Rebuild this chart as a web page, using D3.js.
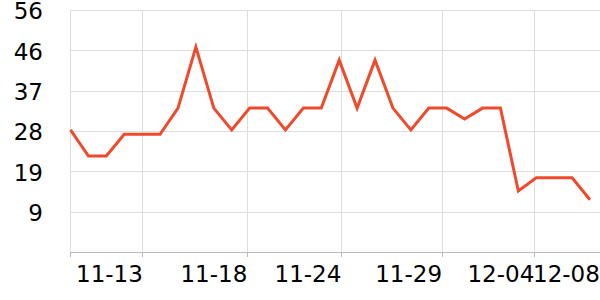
<!DOCTYPE html>
<html>
<head>
<meta charset="utf-8">
<script src="https://cdn.jsdelivr.net/npm/d3@7"></script>
<style>
  body { margin: 0; background: #fff; }
  text { font-family: "DejaVu Sans", sans-serif; }
</style>
</head>
<body>
<script>
// daily points, 11-09 .. 12-08
const dates = ["11-09","11-10","11-11","11-12","11-13","11-14","11-15","11-16","11-17","11-18",
               "11-19","11-20","11-21","11-22","11-23","11-24","11-25","11-26","11-27","11-28",
               "11-29","11-30","12-01","12-02","12-03","12-04","12-05","12-06","12-07","12-08"];
const values = [28, 22, 22, 27, 27, 27, 33, 47, 33, 28,
                33, 33, 28, 33, 33, 44, 33, 44, 33, 28,
                33, 33, 30.5, 33, 33, 14, 17, 17, 17, 12];

// x tick labels and where they sit (in point-index units)
const xTickAt = [4.04, 9.87, 15.12, 20.74, 25.89, 29.55];
const xTickLabels = ["11-13", "11-18", "11-24", "11-29", "12-04", "12-08"];

// y ticks
const yTicks = [0, 9.25, 18.5, 27.75, 37, 46.25, 55.5];
const yTickLabels = ["", "9", "19", "28", "37", "46", "56"];

const width = 600, height = 300;
const margin = {top: 10, right: 10, bottom: 48, left: 70.5};

const svg = d3.select("body").append("svg")
    .attr("width", width)
    .attr("height", height);

const x = d3.scaleLinear()
    .domain([0, dates.length - 1])
    .range([margin.left, 590]);

const y = d3.scaleLinear()
    .domain([0, 55.5])
    .range([height - margin.bottom, margin.top]);

const px = v => Math.round(v) + 0.5;

// horizontal grid + y labels
const yg = svg.append("g");
yTicks.forEach((t, i) => {
  if (i > 0) {
    yg.append("line")
      .attr("x1", margin.left).attr("x2", width)
      .attr("y1", px(y(t))).attr("y2", px(y(t)))
      .attr("stroke", "#dddddd");
    yg.append("text")
      .attr("x", 43)
      .attr("y", y(t))
      .attr("dy", "0.4em")
      .attr("text-anchor", "end")
      .attr("font-size", 23)
      .attr("fill", "#000")
      .text(yTickLabels[i]);
  }
});

// vertical grid lines (left edge + ticks inside plot)
const xg = svg.append("g");
[0].concat(xTickAt).forEach(t => {
  const xx = x(t);
  if (xx > width - 2) return;
  xg.append("line")
    .attr("x1", px(xx - 0.5)).attr("x2", px(xx - 0.5))
    .attr("y1", margin.top).attr("y2", height - margin.bottom)
    .attr("stroke", "#dddddd");
  xg.append("line")
    .attr("x1", px(xx - 0.5)).attr("x2", px(xx - 0.5))
    .attr("y1", height - margin.bottom).attr("y2", height - margin.bottom + 5)
    .attr("stroke", "#bbbbbb");
});

// bottom axis line
svg.append("line")
  .attr("x1", margin.left).attr("x2", width)
  .attr("y1", px(y(0))).attr("y2", px(y(0)))
  .attr("stroke", "#bbbbbb");

// x labels, right aligned to their tick
xTickAt.forEach((t, i) => {
  svg.append("text")
    .attr("x", Math.min(x(t), width))
    .attr("y", 282)
    .attr("text-anchor", "end")
    .attr("font-size", 23)
    .attr("fill", "#000")
    .text(xTickLabels[i]);
});

// the line
const line = d3.line()
  .x((d, i) => x(i))
  .y(d => y(d));

svg.append("path")
  .datum(values)
  .attr("fill", "none")
  .attr("stroke", "#ef4a2c")
  .attr("stroke-width", 3)
  .attr("stroke-linejoin", "miter")
  .attr("d", line);
</script>
</body>
</html>
